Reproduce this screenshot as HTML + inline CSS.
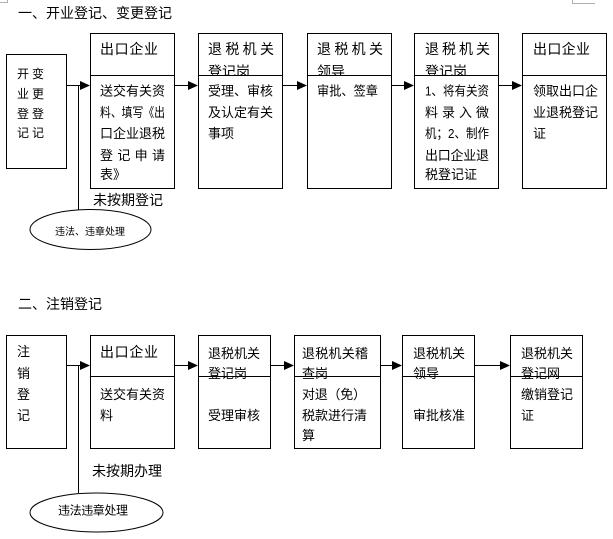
<!DOCTYPE html>
<html><head><meta charset="utf-8">
<style>
html,body{margin:0;padding:0;background:#fff;}
svg{display:block;}
text{font-family:"Liberation Sans","Noto Sans CJK SC","WenQuanYi Zen Hei",sans-serif;fill:#000;}
.t12{font-size:12px;}
.t13{font-size:13px;}
.t14{font-size:14px;}
</style></head>
<body>
<svg width="613" height="539" viewBox="0 0 613 539" xmlns="http://www.w3.org/2000/svg">
<defs>
<clipPath id="h2"><rect x="199" y="34" width="83" height="41.5"/></clipPath>
<clipPath id="h4"><rect x="308" y="34" width="83" height="41.5"/></clipPath>
<clipPath id="h5"><rect x="415" y="34" width="83" height="41.5"/></clipPath>
</defs>
<!-- corner marks -->
<polyline points="7.5,0 7.5,2.5 0,2.5" fill="none" stroke="#b0b0b0" stroke-width="1"/>
<polyline points="572.5,0 572.5,3.5 595,3.5" fill="none" stroke="#b0b0b0" stroke-width="1"/>

<!-- ===== Section 1 ===== -->
<text class="t14" x="18" y="18">一、开业登记、变更登记</text>

<g fill="none" stroke="#000" stroke-width="1">
<rect x="6.5" y="54.5" width="60" height="114"/>
<rect x="90.5" y="33.5" width="84" height="155"/>
<line x1="90.5" y1="75.5" x2="174.5" y2="75.5"/>
<rect x="198.5" y="33.5" width="84" height="155"/>
<line x1="198.5" y1="75.5" x2="282.5" y2="75.5"/>
<rect x="307.5" y="33.5" width="84" height="155"/>
<line x1="307.5" y1="75.5" x2="391.5" y2="75.5"/>
<rect x="414.5" y="33.5" width="84" height="155"/>
<line x1="414.5" y1="75.5" x2="498.5" y2="75.5"/>
<rect x="522.5" y="33.5" width="84" height="155"/>
<line x1="522.5" y1="75.5" x2="606.5" y2="75.5"/>
<!-- connectors -->
<line x1="67" y1="85.5" x2="81" y2="85.5"/>
<line x1="175" y1="85.5" x2="189" y2="85.5"/>
<line x1="283" y1="85.5" x2="298" y2="85.5"/>
<line x1="392" y1="85.5" x2="405" y2="85.5"/>
<line x1="499" y1="85.5" x2="513" y2="85.5"/>
<line x1="78.5" y1="85.5" x2="78.5" y2="209.5"/>
<ellipse cx="90.5" cy="229.5" rx="60.5" ry="20"/>
</g>
<g fill="#000">
<polygon points="80,81 90,85.5 80,90"/>
<polygon points="188,81 198,85.5 188,90"/>
<polygon points="297,81 307,85.5 297,90"/>
<polygon points="404,81 414,85.5 404,90"/>
<polygon points="512,81 522,85.5 512,90"/>
</g>

<!-- box1 -->
<g class="t12">
<text x="17" y="78">开</text><text x="32" y="78">变</text>
<text x="17" y="98">业</text><text x="32" y="98">更</text>
<text x="17" y="118">登</text><text x="32" y="118">登</text>
<text x="17" y="137">记</text><text x="32" y="137">记</text>
</g>
<!-- box2 -->
<text class="t14" x="100" y="54" textLength="58" lengthAdjust="spacing">出口企业</text>
<g class="t13">
<text x="100" y="95.5" textLength="65" lengthAdjust="spacing">送交有关资</text>
<text x="100" y="117" textLength="65" lengthAdjust="spacingAndGlyphs">料、填写《出</text>
<text x="100" y="138" textLength="65" lengthAdjust="spacing">口企业退税</text>
<text x="100" y="160" textLength="65" lengthAdjust="spacing">登记申请</text>
<text x="100" y="179">表》</text>
</g>
<!-- box3 -->
<text class="t14" x="208" y="54" textLength="66" lengthAdjust="spacing">退税机关</text>
<text class="t14" x="208" y="76.5" clip-path="url(#h2)">登记岗</text>
<g class="t13">
<text x="208" y="95.5" textLength="65" lengthAdjust="spacing">受理、审核</text>
<text x="208" y="117" textLength="65" lengthAdjust="spacing">及认定有关</text>
<text x="208" y="138">事项</text>
</g>
<!-- box4 -->
<text class="t14" x="317" y="54" textLength="66" lengthAdjust="spacing">退税机关</text>
<text class="t14" x="317" y="76.5" clip-path="url(#h4)">领导</text>
<text class="t13" x="317" y="95.5" textLength="61" lengthAdjust="spacingAndGlyphs">审批、签章</text>
<!-- box5 -->
<text class="t14" x="425" y="54" textLength="65" lengthAdjust="spacing">退税机关</text>
<text class="t14" x="425" y="76.5" clip-path="url(#h5)">登记岗</text>
<g class="t13">
<text x="425" y="95.5" textLength="64" lengthAdjust="spacingAndGlyphs">1、将有关资</text>
<text x="425" y="117" textLength="64" lengthAdjust="spacing">料录入微</text>
<text x="425" y="138" textLength="64" lengthAdjust="spacingAndGlyphs">机；2、制作</text>
<text x="425" y="160" textLength="64" lengthAdjust="spacing">出口企业退</text>
<text x="425" y="179">税登记证</text>
</g>
<!-- box6 -->
<text class="t14" x="533" y="54" textLength="57" lengthAdjust="spacing">出口企业</text>
<g class="t13">
<text x="533" y="95.5" textLength="65" lengthAdjust="spacing">领取出口企</text>
<text x="533" y="117" textLength="65" lengthAdjust="spacing">业退税登记</text>
<text x="533" y="138">证</text>
</g>

<text class="t14" x="93" y="205">未按期登记</text>
<text x="55" y="235" style="font-size:10px" textLength="70" lengthAdjust="spacing">违法、违章处理</text>

<!-- ===== Section 2 ===== -->
<text class="t14" x="18" y="309">二、注销登记</text>

<g fill="none" stroke="#000" stroke-width="1">
<rect x="6.5" y="335.5" width="60" height="113"/>
<rect x="90.5" y="335.5" width="84" height="113"/>
<line x1="90.5" y1="376.5" x2="174.5" y2="376.5"/>
<rect x="198.5" y="335.5" width="72" height="113"/>
<rect x="294.5" y="335.5" width="86" height="113"/>
<rect x="402.5" y="335.5" width="72" height="113"/>
<rect x="510.5" y="335.5" width="72" height="113"/>
<line x1="67" y1="365.5" x2="81" y2="365.5"/>
<line x1="175" y1="365.5" x2="189" y2="365.5"/>
<line x1="271" y1="365.5" x2="285" y2="365.5"/>
<line x1="381" y1="365.5" x2="393" y2="365.5"/>
<line x1="475" y1="365.5" x2="501" y2="365.5"/>
<line x1="78.5" y1="365.5" x2="78.5" y2="493"/>
<ellipse cx="96.5" cy="512.5" rx="66.5" ry="19.5"/>
</g>
<g fill="#000">
<polygon points="80,361 90,365.5 80,370"/>
<polygon points="188,361 198,365.5 188,370"/>
<polygon points="284,361 294,365.5 284,370"/>
<polygon points="392,361 402,365.5 392,370"/>
<polygon points="500,361 510,365.5 500,370"/>
</g>

<g class="t13">
<text x="17" y="356">注</text>
<text x="17" y="378">销</text>
<text x="17" y="399">登</text>
<text x="17" y="420">记</text>
</g>
<text class="t14" x="100" y="357" textLength="58" lengthAdjust="spacing">出口企业</text>
<g class="t13">
<text x="100" y="399" textLength="65" lengthAdjust="spacing">送交有关资</text>
<text x="100" y="420">料</text>

<text x="208" y="358">退税机关</text>
<text x="208" y="378">登记岗</text>
<text x="208" y="420">受理审核</text>

<text x="302" y="358" textLength="66" lengthAdjust="spacing">退税机关稽</text>
<text x="302" y="378">查岗</text>
<text x="302" y="399" textLength="64" lengthAdjust="spacing">对退（免）</text>
<text x="302" y="420" textLength="65" lengthAdjust="spacing">税款进行清</text>
<text x="302" y="440">算</text>

<text x="413" y="358">退税机关</text>
<text x="413" y="378">领导</text>
<text x="413" y="420">审批核准</text>

<text x="521" y="358">退税机关</text>
<text x="521" y="378">登记网</text>
<text x="521" y="399">缴销登记</text>
<text x="521" y="420">证</text>
</g>
<g fill="none" stroke="#000" stroke-width="1">
<line x1="198.5" y1="376.5" x2="270.5" y2="376.5"/>
<line x1="294.5" y1="376.5" x2="380.5" y2="376.5"/>
<line x1="402.5" y1="376.5" x2="474.5" y2="376.5"/>
<line x1="510.5" y1="376.5" x2="582.5" y2="376.5"/>
</g>

<text class="t14" x="92" y="476">未按期办理</text>
<text x="58" y="514.5" style="font-size:12px" textLength="70" lengthAdjust="spacing">违法违章处理</text>
</svg>
</body></html>
